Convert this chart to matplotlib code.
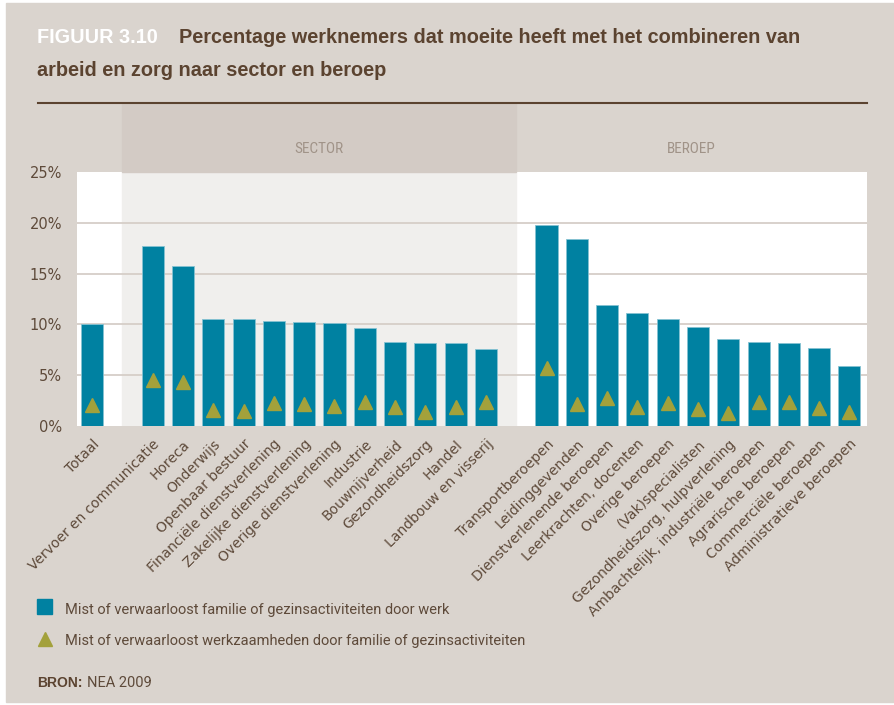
import matplotlib
matplotlib.use("Agg")
import matplotlib.pyplot as plt
from matplotlib import font_manager
from matplotlib.patches import Rectangle
from matplotlib.lines import Line2D
import matplotlib.transforms as mtransforms

# --- data (percentages) ---
totaal_label = ["Totaal"]
totaal_werk = [10.05]
totaal_fam = [2.1]

sector_labels = ["Vervoer en communicatie", "Horeca", "Onderwijs", "Openbaar bestuur",
                 "Financiële dienstverlening", "Zakelijke dienstverlening",
                 "Overige dienstverlening", "Industrie", "Bouwnijverheid",
                 "Gezondheidszorg", "Handel", "Landbouw en visserij"]
sector_werk = [17.75, 15.75, 10.55, 10.5, 10.3, 10.2, 10.15, 9.65, 8.3, 8.2, 8.15, 7.6]
sector_fam = [4.55, 4.35, 1.6, 1.5, 2.25, 2.2, 2.0, 2.35, 1.85, 1.35, 1.85, 2.35]

beroep_labels = ["Transportberoepen", "Leidinggevenden", "Dienstverlenende beroepen",
                 "Leerkrachten, docenten", "Overige beroepen", "(Vak)specialisten",
                 "Gezondheidszorg, hulpverlening", "Ambachtelijk, industriële beroepen",
                 "Agrarische beroepen", "Commerciële beroepen", "Administratieve beroepen"]
beroep_werk = [19.8, 18.45, 11.9, 11.1, 10.55, 9.7, 8.6, 8.3, 8.2, 7.7, 5.9]
beroep_fam = [5.7, 2.2, 2.75, 1.9, 2.3, 1.7, 1.3, 2.4, 2.4, 1.75, 1.35]

yticks = [0, 5, 10, 15, 20, 25]

# colours
BG = "#dad4ce"
HEAD = "#d3cbc5"
SECT = "#f0efed"
GRID = "#d6cec8"
BAR = "#0081a1"
TRI = "#a3a13b"
BROWN = "#5b4330"
TXT = "#5e4a3a"

names = {f.name for f in font_manager.fontManager.ttflist}
def pick(*cands):
    return next((n for n in cands if n in names), "DejaVu Sans")
NARROW = pick("Roboto Condensed", "Liberation Sans Narrow")
TITLE = pick("Liberation Sans", "Arial")
BODY = pick("Roboto")
plt.rcParams["font.family"] = ["DejaVu Sans"]

# x positions: Totaal, gap, sector, gap, beroep
labels = totaal_label + [""] + sector_labels + [""] + beroep_labels
werk = totaal_werk + [None] + sector_werk + [None] + beroep_werk
fam = totaal_fam + [None] + sector_fam + [None] + beroep_fam
xs = [i for i, v in enumerate(werk) if v is not None]
xlab = [labels[i] for i in xs]
wv = [werk[i] for i in xs]
fv = [fam[i] for i in xs]
sector_span = (1, 1 + len(sector_labels) + 1)

W, H = 894, 705
fig = plt.figure(figsize=(W / 100, H / 100), dpi=100)
fig.patch.set_facecolor("white")
fig.patches.append(Rectangle((6 / W, 1 - 702 / H), 1, (702 - 3) / H,
                             transform=fig.transFigure, color=BG, zorder=-10))

ax = fig.add_axes([77 / W, 1 - 426 / H, (867 - 77) / W, (426 - 172) / H])
ax.set_facecolor("white")
ax.set_xlim(-0.5, 25.58)
ax.set_ylim(0, 25)

# shaded sector block (inside plot and header band above it)
trans = mtransforms.blended_transform_factory(ax.transData, ax.transAxes)
head_top = 1 + (172 - 103) / (426 - 172)
ax.add_patch(Rectangle((sector_span[0], 0), sector_span[1] - sector_span[0], 1,
                       transform=trans, color=SECT, zorder=0))
ax.add_patch(Rectangle((sector_span[0], 1), sector_span[1] - sector_span[0], head_top - 1,
                       transform=trans, color=HEAD, zorder=0, clip_on=False))
yhead = (426 - 149) / (426 - 172)
ax.text((sector_span[0] + sector_span[1]) / 2, yhead, "SECTOR", transform=trans,
        ha="center", va="center", fontsize=11, color="#a09388", family=NARROW)
ax.text((sector_span[1] + 25.58) / 2, yhead, "BEROEP", transform=trans,
        ha="center", va="center", fontsize=11, color="#a09388", family=NARROW)

for y in yticks[1:-1]:
    ax.axhline(y, color=GRID, lw=1.3, zorder=1)

ax.bar(xs, wv, width=0.73, color=BAR, edgecolor="#86c2d2", linewidth=0.6, zorder=2)
ax.plot(xs, fv, linestyle="none", marker="^", ms=9.5, color=TRI, zorder=3)

for s in ax.spines.values():
    s.set_visible(False)
ax.tick_params(length=0, colors=TXT)
ax.set_yticks(yticks)
ax.set_yticklabels([f"{t}%" for t in yticks], fontsize=10.5, color=TXT)
ax.tick_params(axis="y", pad=10.8)
ax.set_xticks(xs)
ax.set_xticklabels(xlab, rotation=45, ha="right", rotation_mode="anchor",
                   fontsize=10, color=TXT)
ax.tick_params(axis="x", pad=8)

# title
fig.text(37 / W, 1 - 43 / H, "FIGUUR 3.10", color="white", fontsize=14.3,
         fontweight="bold", family=TITLE, va="baseline")
fig.text(179 / W, 1 - 43 / H, "Percentage werknemers dat moeite heeft met het combineren van",
         color=BROWN, fontsize=14.3, fontweight="bold", family=TITLE, va="baseline")
fig.text(37 / W, 1 - 76 / H, "arbeid en zorg naar sector en beroep",
         color=BROWN, fontsize=14.3, fontweight="bold", family=TITLE, va="baseline")
fig.add_artist(Line2D([38 / W, 867 / W], [1 - 103 / H] * 2, color=BROWN, lw=1.5,
                      transform=fig.transFigure))

# legend
fig.patches.append(Rectangle((37 / W, 1 - 614 / H), 15 / W, 15 / H,
                             transform=fig.transFigure, color=BAR))
fig.add_artist(Line2D([44.5 / W], [1 - 639 / H], marker="^", ms=10.5, color=TRI,
                      linestyle="none", transform=fig.transFigure))
fig.text(65 / W, 1 - 614 / H, "Mist of verwaarloost familie of gezinsactiviteiten door werk",
         va="baseline", fontsize=10.5, color=TXT, family=BODY)
fig.text(65 / W, 1 - 645 / H, "Mist of verwaarloost werkzaamheden door familie of gezinsactiviteiten",
         va="baseline", fontsize=10.5, color=TXT, family=BODY)
fig.text(37 / W, 1 - 687 / H, "BRON:", va="baseline", fontsize=10, color=BROWN,
         fontweight="bold", family=TITLE)
fig.text(87 / W, 1 - 687 / H, "NEA 2009", va="baseline", fontsize=10.5, color=TXT, family=BODY)

fig.savefig("out.png", dpi=100, facecolor=fig.get_facecolor())
